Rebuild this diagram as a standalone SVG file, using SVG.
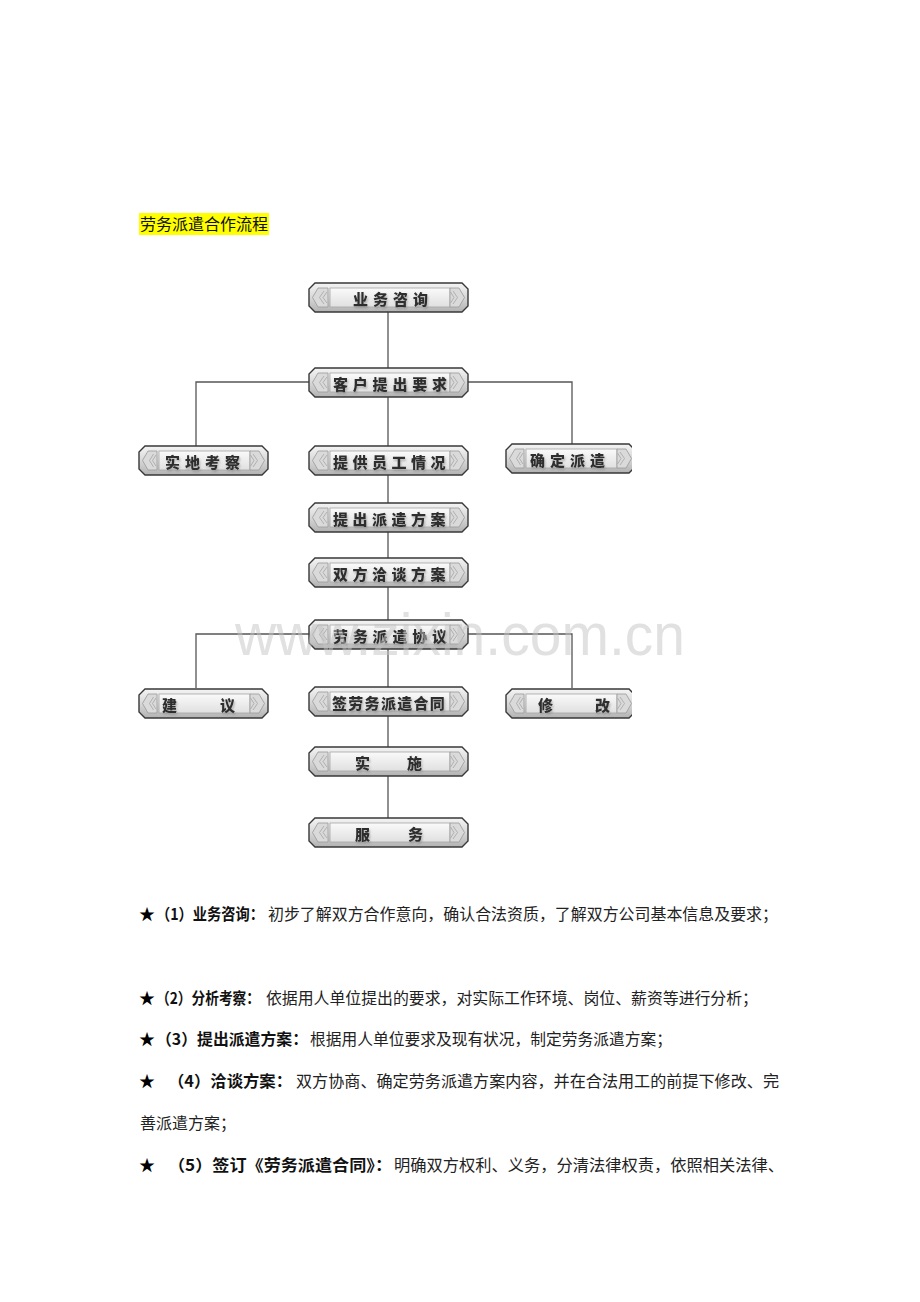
<svg xmlns="http://www.w3.org/2000/svg" xmlns:xlink="http://www.w3.org/1999/xlink" width="920" height="1302" viewBox="0 0 920 1302">
<style>
.lbl{font-family:"Noto Sans CJK SC","Noto Sans",sans-serif;font-size:15px;font-weight:900;fill:#2e2e2e;filter:url(#tsh)}
.conn{stroke:#555;stroke-width:1.3;fill:none}
.bt{font-family:"Noto Sans CJK SC",sans-serif;font-size:16px;font-weight:bold;fill:#111}
.rt{font-family:"Noto Sans CJK SC",sans-serif;font-size:16px;fill:#222}
.star{font-family:"Noto Sans CJK SC",sans-serif;font-size:16px;fill:#000}
.wm{font-family:"Liberation Sans",Arial,sans-serif;font-size:60px;fill:#c4c4c4;opacity:0.5}
</style>
<defs>
<linearGradient id="gF" x1="0" y1="0" x2="0" y2="1">
<stop offset="0" stop-color="#f4f4f4"/><stop offset="0.5" stop-color="#d8d8d8"/><stop offset="1" stop-color="#b2b2b2"/>
</linearGradient>
<linearGradient id="gB" x1="0" y1="0" x2="0" y2="1">
<stop offset="0" stop-color="#fafafa"/><stop offset="1" stop-color="#e0e0e0"/>
</linearGradient>
<filter id="tsh" x="-20%" y="-40%" width="140%" height="180%">
<feGaussianBlur in="SourceAlpha" stdDeviation="1.2"/>
<feOffset dx="1" dy="1.5" result="b"/>
<feFlood flood-color="#888" flood-opacity="0.6"/>
<feComposite in2="b" operator="in"/>
<feMerge><feMergeNode/><feMergeNode in="SourceGraphic"/></feMerge>
</filter>
<clipPath id="cr"><rect x="0" y="0" width="632" height="1302"/></clipPath>
<g id="fc">
<path d="M6,0 H153 L159,6 V23 L153,29 H6 L0,23 V6 Z" fill="url(#gF)" stroke="#383838" stroke-width="1.4"/>
<rect x="21" y="5" width="120" height="19" fill="url(#gB)" stroke="#a6a6a6" stroke-width="0.8"/>
<path d="M19,5 H9 L3.5,14.5 L9,24 H19 Z" fill="#dadada" stroke="#999" stroke-width="0.8"/>
<path d="M15,8 L10.5,14.5 L15,21 M18,9 L14,14.5 L18,20" fill="none" stroke="#a4a4a4" stroke-width="0.8"/>
<path d="M141,5 H150 L155.5,14.5 L150,24 H141 Z" fill="#dadada" stroke="#999" stroke-width="0.8"/>
<path d="M144,8 L148.5,14.5 L144,21 M141.5,9 L145,14.5 L141.5,20" fill="none" stroke="#a4a4a4" stroke-width="0.8"/>
</g>
<g id="fs">
<path d="M6,0 H123 L129,6 V23 L123,29 H6 L0,23 V6 Z" fill="url(#gF)" stroke="#383838" stroke-width="1.4"/>
<rect x="20" y="5" width="91" height="19" fill="url(#gB)" stroke="#a6a6a6" stroke-width="0.8"/>
<path d="M18,5 H9 L3.5,14.5 L9,24 H18 Z" fill="#dadada" stroke="#999" stroke-width="0.8"/>
<path d="M14.5,8 L10.5,14.5 L14.5,21 M17,9 L13.5,14.5 L17,20" fill="none" stroke="#a4a4a4" stroke-width="0.8"/>
<path d="M111,5 H120 L125.5,14.5 L120,24 H111 Z" fill="#dadada" stroke="#999" stroke-width="0.8"/>
<path d="M114,8 L118.5,14.5 L114,21 M111.5,9 L115,14.5 L111.5,20" fill="none" stroke="#a4a4a4" stroke-width="0.8"/>
</g>
</defs>
<rect width="920" height="1302" fill="#ffffff"/>

<g id="title">
<rect x="139" y="213" width="130" height="22" fill="#ffff00"/>
<text x="140" y="230" font-family="Noto Sans CJK SC,sans-serif" font-size="16" fill="#111" textLength="128" lengthAdjust="spacingAndGlyphs">劳务派遣合作流程</text>
</g>

<g id="connectors">
<path class="conn" d="M388,312 V368 M388,397 V446 M388,475 V503 M388,532 V558 M388,587 V620 M388,649 V687 M388,716 V747 M388,776 V818"/>
<path class="conn" d="M309,382 H196 V446 M468,382 H572 V444"/>
<path class="conn" d="M309,634 H196 V688 M468,634 H572 V688"/>
</g>

<g id="n1" transform="translate(309,283)"><use href="#fc"/><text class="lbl" x="44" y="22" letter-spacing="5">业务咨询</text></g>
<g id="n2" transform="translate(309,368)"><use href="#fc"/><text class="lbl" x="24" y="22" letter-spacing="4.8">客户提出要求</text></g>
<g id="n3" transform="translate(309,446)"><use href="#fc"/><text class="lbl" x="24" y="22" letter-spacing="4.5">提供员工情况</text></g>
<g id="n4" transform="translate(309,503)"><use href="#fc"/><text class="lbl" x="24" y="22" letter-spacing="4.5">提出派遣方案</text></g>
<g id="n5" transform="translate(309,558)"><use href="#fc"/><text class="lbl" x="24" y="22" letter-spacing="4.5">双方洽谈方案</text></g>
<g id="n6" transform="translate(309,620)"><use href="#fc"/><text class="lbl" x="24" y="22" letter-spacing="4.8">劳务派遣协议</text></g>
<g id="n7" transform="translate(309,687)"><use href="#fc"/><text class="lbl" x="23" y="22" letter-spacing="1.3">签劳务派遣合同</text></g>
<g id="n8" transform="translate(309,747)"><use href="#fc"/><text class="lbl" x="46" y="22" letter-spacing="37">实施</text></g>
<g id="n9" transform="translate(309,818)"><use href="#fc"/><text class="lbl" x="46" y="22" letter-spacing="38">服务</text></g>
<g id="n10" transform="translate(139,446)"><use href="#fs"/><text class="lbl" x="26" y="22" letter-spacing="5">实地考察</text></g>
<g id="n11" transform="translate(139,689)"><use href="#fs"/><text class="lbl" x="23" y="22" letter-spacing="43">建议</text></g>
<g id="n12" clip-path="url(#cr)"><g transform="translate(506,444)"><use href="#fs"/><text class="lbl" x="24" y="22" letter-spacing="5">确定派遣</text></g></g>
<g id="n13" clip-path="url(#cr)"><g transform="translate(506,689)"><use href="#fs"/><text class="lbl" x="32" y="22" letter-spacing="42">修改</text></g></g>

<text class="wm" x="235" y="655" textLength="450" lengthAdjust="spacingAndGlyphs">www.zixin.com.cn</text>

<g id="notes">
<text class="star" x="139" y="920">★</text>
<text class="bt" x="156" y="920" textLength="108" lengthAdjust="spacingAndGlyphs">（1）业务咨询：</text>
<text class="rt" x="268" y="920" textLength="510" lengthAdjust="spacingAndGlyphs">初步了解双方合作意向，确认合法资质，了解双方公司基本信息及要求；</text>

<text class="star" x="139" y="1004">★</text>
<text class="bt" x="156" y="1004" textLength="104" lengthAdjust="spacingAndGlyphs">（2）分析考察：</text>
<text class="rt" x="266" y="1004" textLength="492" lengthAdjust="spacingAndGlyphs">依据用人单位提出的要求，对实际工作环境、岗位、薪资等进行分析；</text>

<text class="star" x="139" y="1045">★</text>
<text class="bt" x="156" y="1045" textLength="152" lengthAdjust="spacingAndGlyphs">（3）提出派遣方案：</text>
<text class="rt" x="310" y="1045" textLength="362" lengthAdjust="spacingAndGlyphs">根据用人单位要求及现有状况，制定劳务派遣方案；</text>

<text class="star" x="139" y="1087">★</text>
<text class="bt" x="168" y="1087" textLength="124" lengthAdjust="spacingAndGlyphs">（4）洽谈方案：</text>
<text class="rt" x="296" y="1087" textLength="483" lengthAdjust="spacingAndGlyphs">双方协商、确定劳务派遣方案内容，并在合法用工的前提下修改、完</text>

<text class="rt" x="140" y="1129" textLength="96" lengthAdjust="spacingAndGlyphs">善派遣方案；</text>

<text class="star" x="139" y="1171">★</text>
<text class="bt" x="168" y="1171" textLength="224" lengthAdjust="spacingAndGlyphs">（5）签订《劳务派遣合同》：</text>
<text class="rt" x="394" y="1171" textLength="390" lengthAdjust="spacingAndGlyphs">明确双方权利、义务，分清法律权责，依照相关法律、</text>
</g>
</svg>
